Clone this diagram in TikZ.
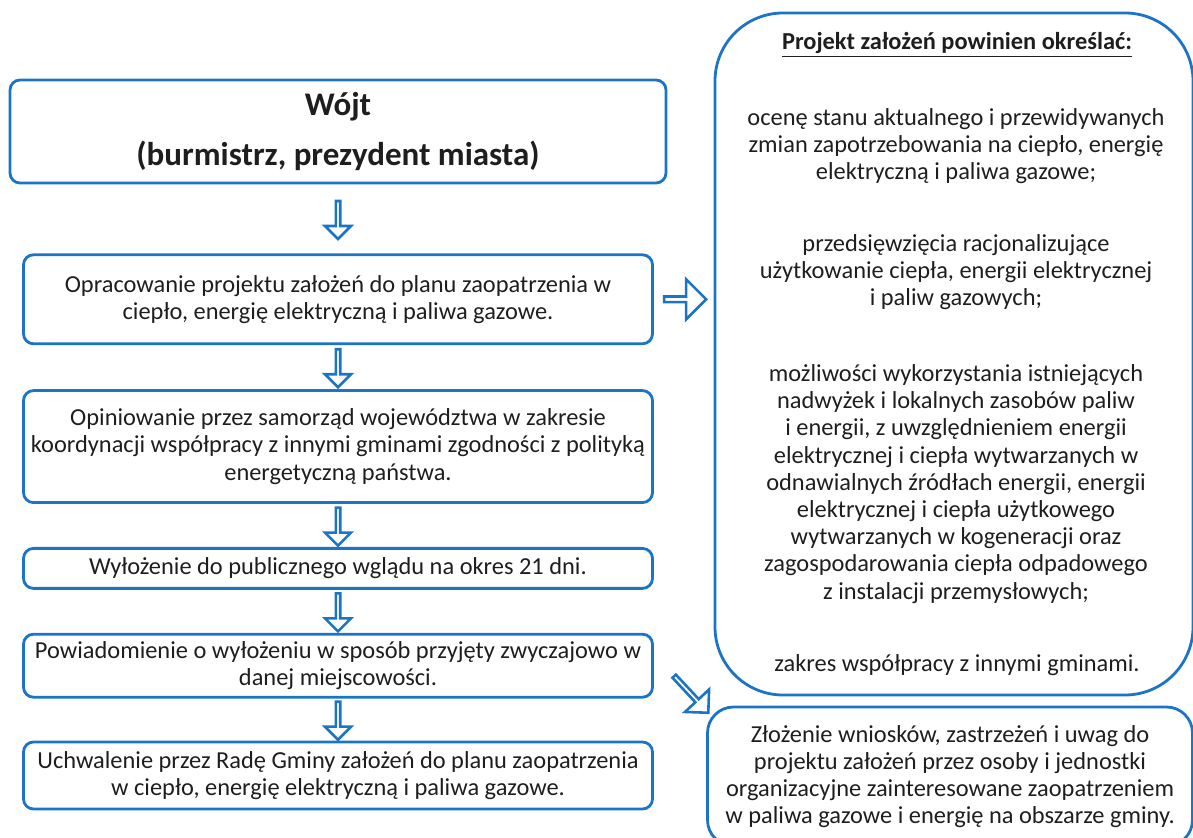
\documentclass[tikz,border=0pt]{standalone}
\usepackage{fontspec}
\setmainfont{Carlito}
\usetikzlibrary{arrows.meta,positioning,shapes.arrows,calc}
\definecolor{boxStroke}{HTML}{1B74C5}
\definecolor{txtDark}{HTML}{1E1E1E}

\begin{document}
\begin{tikzpicture}[
  x=0.5pt,y=-0.5pt,
  font=\fontsize{12.2}{13.6}\selectfont,text=txtDark,
  stepbox/.style={rectangle,rounded corners=5pt,draw=boxStroke,line width=1.4pt,minimum width=314.5pt,align=center,inner sep=2pt},
  bigbox/.style={rectangle,rounded corners=34pt,draw=boxStroke,line width=1.4pt},
  notebox/.style={rectangle,rounded corners=13pt,draw=boxStroke,line width=1.4pt,align=center},
  para/.style={align=center,inner sep=1pt},
  downarr/.style={single arrow,draw=boxStroke,line width=1.3pt,minimum height=19pt,minimum width=13pt,single arrow head extend=3.2pt,inner sep=0pt,rotate=-90},
  sidearr/.style={single arrow,draw=boxStroke,line width=1.3pt,minimum height=21pt,minimum width=20pt,single arrow head extend=4pt,inner sep=0pt},
  diagarr/.style={single arrow,draw=boxStroke,line width=1.3pt,minimum height=25pt,minimum width=16.5pt,single arrow head extend=4pt,inner sep=0pt,rotate=-47}
]
\useasboundingbox (0,0) rectangle (1193,838);
% left column: procedure steps, top to bottom
\node[stepbox,minimum width=328pt,minimum height=51.5pt,font=\fontsize{16.5}{25}\selectfont\bfseries] (wojt) at (338,131.5)
 {Wójt\\(burmistrz, prezydent miasta)};
\node[stepbox,minimum height=44.5pt,below=34.5pt of wojt] (opr)
 {Opracowanie projektu założeń do planu zaopatrzenia w\\ciepło, energię elektryczną i paliwa gazowe.};
\node[stepbox,minimum height=56pt,below=22pt of opr] (opin)
 {Opiniowanie przez samorząd województwa w zakresie\\koordynacji współpracy z innymi gminami zgodności z polityką\\energetyczną państwa.};
\node[stepbox,minimum height=20pt,below=21.5pt of opin] (wyloz)
 {Wyłożenie do publicznego wglądu na okres 21 dni.};
\node[stepbox,minimum height=31.5pt,below=21.5pt of wyloz] (powiad)
 {Powiadomienie o wyłożeniu w sposób przyjęty zwyczajowo w\\danej miejscowości.};
\node[stepbox,minimum height=33.5pt,below=21pt of powiad] (uchwal)
 {Uchwalenie przez Radę Gminy założeń do planu zaopatrzenia\\w ciepło, energię elektryczną i paliwa gazowe.};

% right column: contents of the project
\node[bigbox,minimum width=239pt,minimum height=341pt] (proj) at (954,354) {};
\node[para,font=\fontsize{12.2}{13.6}\selectfont\bfseries] (projTitle) at (957,45) {\underline{Projekt założeń powinien określać:}};
\node[para] (ocena) at (956,146)
 {ocenę stanu aktualnego i przewidywanych\\zmian zapotrzebowania na ciepło, energię\\elektryczną i paliwa gazowe;};
\node[para] (przeds) at (956,272)
 {przedsięwzięcia racjonalizujące\\użytkowanie ciepła, energii elektrycznej\\i paliw gazowych;};
\node[para] (mozliw) at (956,484)
 {możliwości wykorzystania istniejących\\nadwyżek i lokalnych zasobów paliw\\i energii, z uwzględnieniem energii\\elektrycznej i ciepła wytwarzanych w\\odnawialnych źródłach energii, energii\\elektrycznej i ciepła użytkowego\\wytwarzanych w kogeneracji oraz\\zagospodarowania ciepła odpadowego\\z instalacji przemysłowych;};
\node[para] (zakres) at (957,665) {zakres współpracy z innymi gminami.};
\node[notebox,minimum width=242.5pt,minimum height=69.5pt] (zloz) at (950,776.5)
 {Złożenie wniosków, zastrzeżeń i uwag do\\projektu założeń przez osoby i jednostki\\organizacyjne zainteresowane zaopatrzeniem\\w paliwa gazowe i energię na obszarze gminy.};

% block arrows
\foreach \a/\b in {wojt/opr,opr/opin,opin/wyloz,wyloz/powiad,powiad/uchwal}
  \node[downarr] (to\b) at ($(\a.south)!.5!(\b.north)$) {};
\node[sidearr] (toProj) at ($(opr.east)!.5!(opr.east -| proj.west)$) {};
\node[diagarr] (toZloz) at ($(powiad.east)!.7!(zloz.north west)$) {};
\end{tikzpicture}
\end{document}
